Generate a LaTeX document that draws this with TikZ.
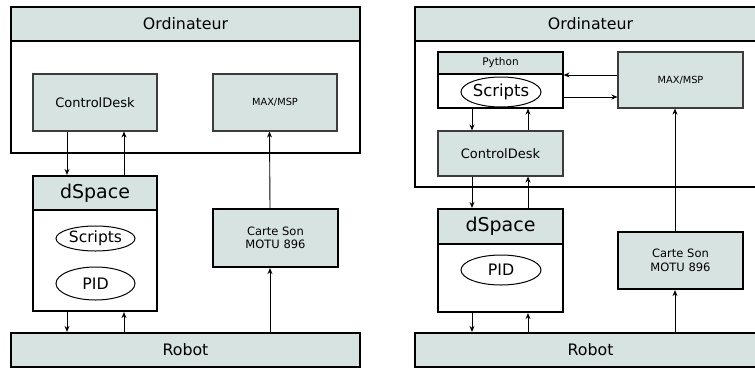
\documentclass[tikz,border=0pt]{standalone}
\usepackage{fontspec}
\setmainfont{DejaVu Sans}
\usetikzlibrary{arrows.meta,shapes.geometric}
\definecolor{boxfill}{RGB}{215,227,225}
\definecolor{thinline}{RGB}{60,60,60}
\tikzset{
  thickbox/.style={draw=black,line width=2.2pt,rectangle,inner sep=0pt},
  thinbox/.style={draw=thinline,line width=1.1pt,rectangle,fill=boxfill,inner sep=0pt},
  hdr/.style={draw=black,line width=2.2pt,rectangle,fill=boxfill,inner sep=0pt},
  oval/.style={draw=black,line width=1pt,ellipse,inner sep=0pt,fill=white},
  arr/.style={-{Stealth[length=6pt,width=5pt]},line width=0.9pt,black},
  big/.style={font=\fontsize{15.8}{18}\selectfont},
}
\begin{document}
\begin{tikzpicture}[x=1pt,y=-1pt]
\useasboundingbox (0,0) rectangle (755,370);
\clip (0,0) rectangle (755,370);
\fill[white] (0,0) rectangle (755,370);

% ---------------- Left diagram ----------------
\node[thickbox,fill=white,minimum width=349pt,minimum height=146pt] (ord1) at (185.5,80) {};
\node[hdr,minimum width=349pt,minimum height=34pt,big] (ord1h) at (185.5,24) {Ordinateur};
\node[thinbox,minimum width=124pt,minimum height=57pt,font=\fontsize{13}{15}\selectfont] (cd1) at (95,102.5) {ControlDesk};
\node[thinbox,minimum width=124pt,minimum height=57pt,font=\fontsize{9.8}{11}\selectfont] (mx1) at (275,102.5) {MAX/MSP};

\node[thickbox,fill=white,minimum width=124pt,minimum height=135pt] (ds1) at (95,243.5) {};
\node[hdr,minimum width=124pt,minimum height=34pt,font=\fontsize{19}{22}\selectfont] (ds1h) at (95,193) {dSpace};
\node[oval,minimum width=79pt,minimum height=25pt,font=\fontsize{15.5}{18}\selectfont] (sc1) at (95.5,238.5) {Scripts};
\node[oval,minimum width=79pt,minimum height=33pt,big] (pid1) at (95.5,283.5) {PID};

\node[thickbox,fill=boxfill,minimum width=125pt,minimum height=58pt,align=center,font=\fontsize{11.5}{13.5}\selectfont] (cs1) at (275.5,238) {Carte Son\\MOTU 896};
\node[hdr,minimum width=349pt,minimum height=34pt,big] (rb1) at (185.5,350) {Robot};

\draw[arr] ([xshift=-28pt]cd1.south) -- ([xshift=-28pt]ds1.north);
\draw[arr] ([xshift=29pt]ds1.north) -- ([xshift=29pt]cd1.south);
\draw[arr] ([xshift=-28pt]ds1.south) -- ([xshift=-28pt]ds1.south |- rb1.north);
\draw[arr] ([xshift=29pt]ds1.south |- rb1.north) -- ([xshift=29pt]ds1.south);
\draw[arr] ([xshift=-5.5pt]cs1.south |- rb1.north) -- ([xshift=-5.5pt]cs1.south);
\draw[arr] ([xshift=-5.5pt]cs1.north) -- ([xshift=-5.5pt]mx1.south);

% ---------------- Right diagram ----------------
\node[thickbox,fill=white,minimum width=351pt,minimum height=180pt] (ord2) at (590.5,97) {};
\node[hdr,minimum width=351pt,minimum height=34pt,big] (ord2h) at (590.5,24) {Ordinateur};

\node[draw=black,line width=1.2pt,fill=white,minimum width=125pt,minimum height=56pt,inner sep=0pt] (py2) at (500.5,80) {};
\node[draw=black,line width=1.2pt,fill=boxfill,minimum width=125pt,minimum height=22pt,inner sep=0pt,font=\fontsize{10.5}{12}\selectfont] (py2h) at (500.5,63) {Python};
\node[oval,minimum width=80pt,minimum height=30pt,font=\fontsize{16.5}{19}\selectfont] (sc2) at (501,92) {Scripts};
\node[thinbox,minimum width=125pt,minimum height=56pt,font=\fontsize{9.8}{11}\selectfont] (mx2) at (680.5,80) {MAX/MSP};
\node[thinbox,minimum width=125pt,minimum height=45pt,font=\fontsize{13}{15}\selectfont] (cd2) at (500.5,153.5) {ControlDesk};

\node[thickbox,fill=white,minimum width=125pt,minimum height=103pt] (ds2) at (500.5,260.5) {};
\node[hdr,minimum width=125pt,minimum height=35pt,font=\fontsize{19}{22}\selectfont] (ds2h) at (500.5,226.5) {dSpace};
\node[oval,minimum width=80pt,minimum height=30pt,big] (pid2) at (501,270) {PID};

\node[thickbox,fill=boxfill,minimum width=125pt,minimum height=57pt,align=center,font=\fontsize{11.5}{13.5}\selectfont] (cs2) at (680.5,260.5) {Carte Son\\MOTU 896};
\node[hdr,minimum width=351pt,minimum height=34pt,big] (rb2) at (590.5,350) {Robot};

\draw[arr] ([yshift=5pt]mx2.west) -- ([yshift=5pt]py2.east);
\draw[arr] ([yshift=-17pt]py2.east) -- ([yshift=-17pt]mx2.west);
\draw[arr] ([xshift=-28.5pt]py2.south) -- ([xshift=-28.5pt]cd2.north);
\draw[arr] ([xshift=27.5pt]cd2.north) -- ([xshift=27.5pt]py2.south);
\draw[arr] ([xshift=-28.5pt]cd2.south) -- ([xshift=-28.5pt]ds2.north);
\draw[arr] ([xshift=27.5pt]ds2.north) -- ([xshift=27.5pt]cd2.south);
\draw[arr] ([xshift=-28.5pt]ds2.south) -- ([xshift=-28.5pt]ds2.south |- rb2.north);
\draw[arr] ([xshift=27.5pt]ds2.south |- rb2.north) -- ([xshift=27.5pt]ds2.south);
\draw[arr] ([xshift=-5.5pt]cs2.south |- rb2.north) -- ([xshift=-5.5pt]cs2.south);
\draw[arr] ([xshift=-5.5pt]cs2.north) -- ([xshift=-5.5pt]mx2.south);
\end{tikzpicture}
\end{document}
